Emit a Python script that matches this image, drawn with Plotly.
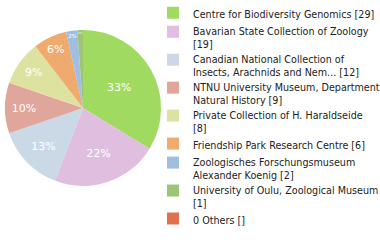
import plotly.graph_objects as go

labels = [
    "Centre for Biodiversity Genomics [29]",
    "Bavarian State Collection of Zoology<br>[19]",
    "Canadian National Collection of<br>Insects, Arachnids and Nem... [12]",
    "NTNU University Museum, Department<br>Natural History [9]",
    "Private Collection of H. Haraldseide<br>[8]",
    "Friendship Park Research Centre [6]",
    "Zoologisches Forschungsmuseum<br>Alexander Koenig [2]",
    "University of Oulu, Zoological Museum<br>[1]",
    "0 Others []",
]
values = [29, 19, 12, 9, 8, 6, 2, 1, 0]
colors = ["#a0da60", "#dfbee0", "#cbd9e6", "#e0a69b", "#dee2a0",
          "#efaa6e", "#a0bee2", "#9ec476", "#e07050"]

total = sum(values)
texts = [f"{int(v * 100 // total)}%" for v in values]

fig = go.Figure(go.Pie(
    labels=labels,
    values=values,
    text=texts,
    textinfo="text",
    textposition="inside",
    insidetextorientation="horizontal",
    insidetextfont=dict(color="white", size=11, family="DejaVu Sans"),
    marker=dict(colors=colors, line=dict(width=0)),
    sort=False,
    direction="clockwise",
    rotation=0,
    domain=dict(x=[5 / 380, 161 / 380], y=[54 / 240, 210 / 240]),
    hoverinfo="label+value",
))

fig.update_layout(
    width=380,
    height=240,
    margin=dict(l=0, r=0, t=0, b=0, autoexpand=False),
    paper_bgcolor="white",
    plot_bgcolor="white",
    showlegend=True,
    legend=dict(
        x=153 / 380,
        y=1.0,
        xanchor="left",
        yanchor="top",
        valign="top",
        font=dict(family="DejaVu Sans", size=9.6, color="#222"),
        itemwidth=30,
        tracegroupgap=0,
        bgcolor="rgba(0,0,0,0)",
    ),
)

fig.write_html(
    "out.html",
    config={"displayModeBar": False},
    post_script="document.body.style.margin='0';",
)
